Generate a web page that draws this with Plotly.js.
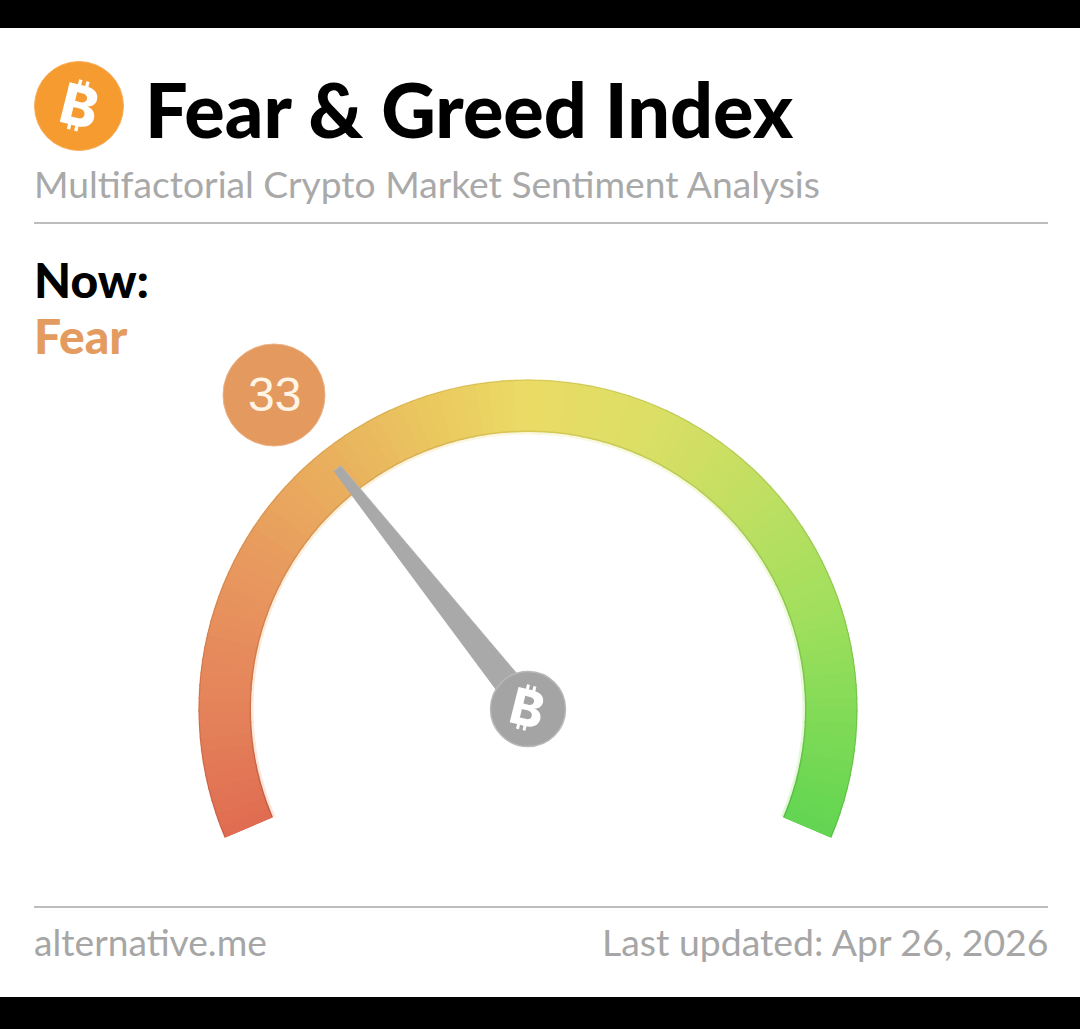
<!DOCTYPE html>
<html>
<head>
<meta charset="utf-8">
<script src="https://cdn.plot.ly/plotly-3.0.1.min.js"></script>
<style>html,body{margin:0;padding:0;background:#fff}#chart{width:1080px;height:1029px}</style>
</head>
<body>
<div id="chart"></div>
<script>
var titleText = 'Fear & Greed Index';
var subtitleText = 'Multifactorial Crypto Market Sentiment Analysis';
var nowLabel = 'Now:';
var classification = 'Fear';
var indexValue = 33;
var sourceText = 'alternative.me';
var updatedText = 'Last updated: Apr 26, 2026';
var bitcoinGlyph = '\u20BF';

var gaugeSteps = [0.5,1.5,2.5,3.5,4.5,5.5,6.5,7.5,8.5,9.5,10.5,11.5,12.5,13.5,14.5,15.5,16.5,17.5,18.5,19.5,
20.5,21.5,22.5,23.5,24.5,25.5,26.5,27.5,28.5,29.5,30.5,31.5,32.5,33.5,34.5,35.5,36.5,37.5,38.5,39.5,
40.5,41.5,42.5,43.5,44.5,45.5,46.5,47.5,48.5,49.5,50.5,51.5,52.5,53.5,54.5,55.5,56.5,57.5,58.5,59.5,
60.5,61.5,62.5,63.5,64.5,65.5,66.5,67.5,68.5,69.5,70.5,71.5,72.5,73.5,74.5,75.5,76.5,77.5,78.5,79.5,
80.5,81.5,82.5,83.5,84.5,85.5,86.5,87.5,88.5,89.5,90.5,91.5,92.5,93.5,94.5,95.5,96.5,97.5,98.5,99.5];
var gaugeColorscale = [
  [0.00,'#e06c50'],[0.10,'#e4825a'],[0.22,'#e8985e'],[0.33,'#e9b05e'],
  [0.42,'#eac85f'],[0.50,'#ebdb65'],[0.60,'#dcdf65'],[0.70,'#c2df62'],
  [0.82,'#a0df5d'],[0.92,'#7cda56'],[1.00,'#62d552']];
var edgeColorscale = [
  [0.00,'#c95c44'],[0.22,'#d68a52'],[0.42,'#d9b654'],[0.50,'#d9c957'],
  [0.70,'#aecb55'],[0.92,'#6cc44a'],[1.00,'#54bd46']];
var haloColorscale = [
  [0.00,'#fbe6dc'],[0.33,'#fcf1dc'],[0.50,'#fbf8dc'],[0.70,'#f4f9dc'],[1.00,'#e2f8da']];

var W = 1080, H = 1029;
var CX = 528, CY = 709, R = 330, INNER = 277, SWEEP = 226, OPEN = 23;
function px(x){return x/W;}
function py(y){return 1-y/H;}
function deg(v){return v*SWEEP/100;}
var stepTheta = gaugeSteps.map(deg);
function arc(base, top, scale){
  return {
    type:'barpolar', theta:stepTheta, r:gaugeSteps.map(function(){return top-base;}),
    base:gaugeSteps.map(function(){return base;}), width:gaugeSteps.map(function(){return 2.6;}),
    hoverinfo:'skip', showlegend:false,
    marker:{color:gaugeSteps, colorscale:scale, cmin:0, cmax:100, showscale:false, line:{width:0}}
  };
}

var needleAt = deg(indexValue);
var traces = [
  arc(INNER-2.5, R+1.5, haloColorscale),
  arc(INNER, R-0.5, edgeColorscale),
  arc(INNER+1.5, R-1.7, gaugeColorscale),
  {type:'scatterpolar', mode:'lines', fill:'toself', fillcolor:'#a9a9a9',
   theta:[needleAt-0.85, needleAt+0.85, needleAt+21, needleAt-21],
   r:[307,307,37,37], line:{color:'#b4b4b4',width:1}, hoverinfo:'skip', showlegend:false},
  {type:'scatterpolar', mode:'markers', theta:[0], r:[0],
   marker:{size:75, color:'#a4a4a4', line:{color:'#b8b8b8',width:1.5}}, hoverinfo:'skip', showlegend:false}
];

function label(text,x,y,size,color,opts){
  return Object.assign({text:text, x:px(x), y:py(y), xref:'paper', yref:'paper', showarrow:false,
    xanchor:'left', yanchor:'middle', borderpad:0,
    font:{family:'Lato, sans-serif', size:size, color:color}}, opts||{});
}
function circle(cx,cy,r,fill,line){
  return {type:'circle', xref:'paper', yref:'paper', x0:px(cx-r), x1:px(cx+r), y0:py(cy+r), y1:py(cy-r),
    fillcolor:fill, line:{color:line,width:1}, layer:'below'};
}
function band(y0,y1){
  return {type:'rect', xref:'paper', yref:'paper', x0:0, x1:1, y0:py(y1), y1:py(y0), fillcolor:'#000', line:{width:0}, layer:'above'};
}
function rule(y){
  return {type:'line', xref:'paper', yref:'paper', x0:px(34), x1:px(1048), y0:py(y), y1:py(y), line:{color:'#bdbdbd',width:2}};
}
var glyphFamily = 'Inter, Roboto, sans-serif';

var layout = {
  width:W, height:H, margin:{l:0,r:0,t:0,b:0}, paper_bgcolor:'#fff', showlegend:false,
  font:{family:'Lato, sans-serif'},
  polar:{
    domain:{x:[px(CX-R),px(CX+R)], y:[py(CY+R*Math.sin(OPEN*Math.PI/180)),py(CY-R)]},
    sector:[-OPEN,180+OPEN], bgcolor:'rgba(0,0,0,0)', barmode:'overlay',
    radialaxis:{visible:false, range:[0,R]},
    angularaxis:{visible:false, direction:'clockwise', rotation:180+OPEN, thetaunit:'degrees'}
  },
  shapes:[band(0,28), band(997,1029), rule(223), rule(907),
    circle(79,106,44.5,'#f59b30','#f8ae5c'), circle(274,395,51,'#e4995e','#ecb085')],
  annotations:[
    label(titleText,144,108.5,75.5,'#000',{font:{family:'Lato, sans-serif',size:75.5,color:'#000',weight:900}}),
    label(subtitleText,33,183,37.2,'#a9a9a9'),
    label(nowLabel,33,279,48,'#000',{font:{family:'Lato, sans-serif',size:48,color:'#000',weight:900}}),
    label(classification,33,335,48,'#e39b60',{font:{family:'Lato, sans-serif',size:48,color:'#e39b60',weight:900}}),
    label(String(indexValue),274,394,48,'#fff5e6',{xanchor:'center',font:{family:'Liberation Sans, Arial, sans-serif',size:48,color:'#fff5e6'}}),
    label(bitcoinGlyph,79,106,56,'#fff',{xanchor:'center',textangle:14,font:{family:glyphFamily,size:56,color:'#fff',weight:800}}),
    label(bitcoinGlyph,527,708,50,'#fff',{xanchor:'center',textangle:14,font:{family:glyphFamily,size:50,color:'#fff',weight:800}}),
    label(sourceText,33,941,37.2,'#a6a6a6'),
    label(updatedText,1049,941,37.4,'#a6a6a6',{xanchor:'right'})
  ]
};
Plotly.newPlot('chart', traces, layout, {displayModeBar:false, staticPlot:true});
</script>
</body>
</html>
